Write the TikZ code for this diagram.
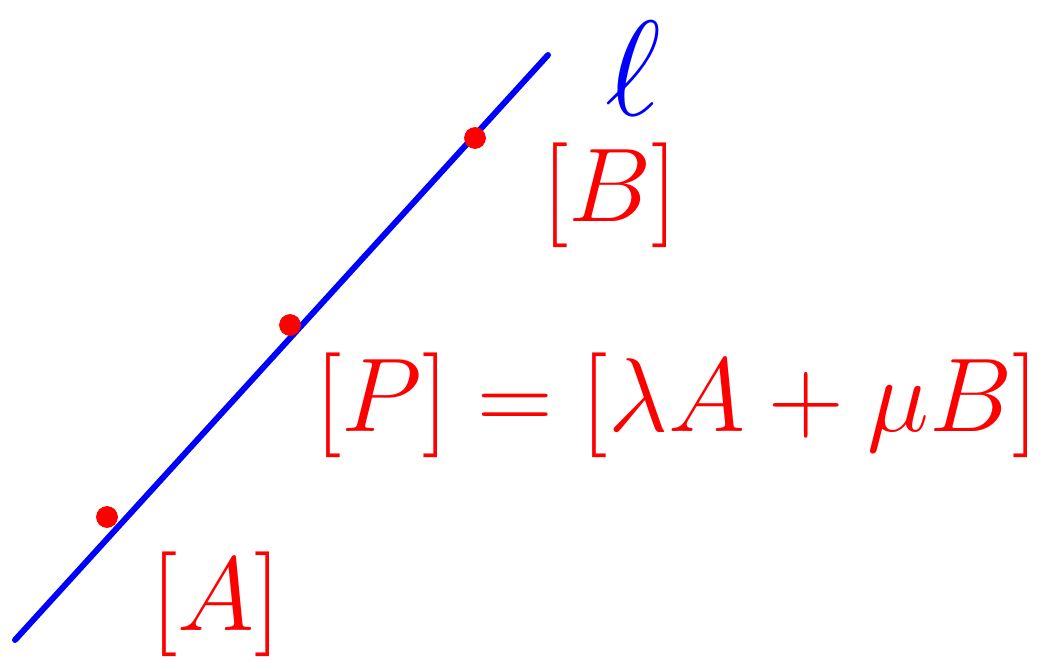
\documentclass[tikz,border=0pt]{standalone}
\usepackage{graphicx}
\usepackage{tikz}
\usetikzlibrary{positioning}

\newcommand{\bigred}[1]{\scalebox{2.4}{\Huge$#1$}}

\begin{document}
\begin{tikzpicture}[x=0.02cm,y=-0.02cm]
  \tikzstyle{pt}=[circle,fill=red,draw=red,inner sep=0pt,minimum size=0.42cm]
  \tikzstyle{lbl}=[text=red,inner sep=0pt]
  \useasboundingbox (0,0) rectangle (1045,669);
  \coordinate (lo) at (15,640);
  \coordinate (hi) at (548,55);
  \draw[blue,line width=3.4pt,line cap=round] (lo) -- (hi);
  \node[pt] (b) at (475,138) {};
  \node[pt] (p) at (290,325) {};
  \node[pt] (a) at (107,517) {};
  \node[text=blue,inner sep=0pt] (ell) at (633,68) {\scalebox{3.1}{\Huge$\ell$}};
  \node[lbl] (lb) at (610,195) {\bigred{[B]}};
  \node[lbl] (lp) at (677,405) {\bigred{[P]=[\lambda A+\mu B]}};
  \node[lbl] (la) at (216,604) {\bigred{[A]}};
\end{tikzpicture}
\end{document}
